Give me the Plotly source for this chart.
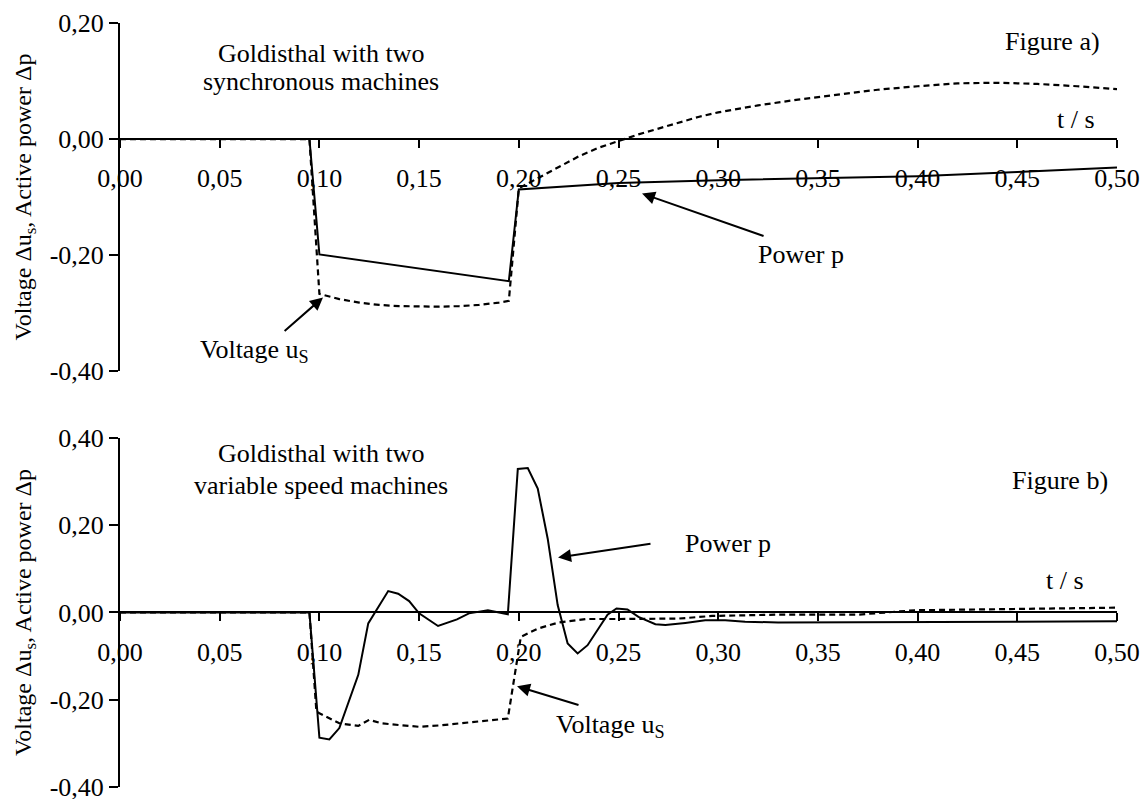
import plotly.graph_objects as go

# ---------------- data ----------------
# Figure a) Goldisthal with two synchronous machines
t_a_power = [0.0, 0.095, 0.100, 0.195, 0.200, 0.25, 0.30, 0.35, 0.40, 0.45, 0.50]
p_a_power = [0.0, 0.0, -0.199, -0.245, -0.087, -0.076, -0.071, -0.068, -0.064, -0.057, -0.049]

t_a_volt = [0.0, 0.095, 0.100, 0.110, 0.120, 0.130, 0.140, 0.150, 0.160, 0.170, 0.180,
            0.190, 0.195, 0.200, 0.210, 0.220, 0.230, 0.240, 0.250, 0.260, 0.270, 0.280,
            0.290, 0.300, 0.320, 0.340, 0.360, 0.380, 0.400, 0.420, 0.440, 0.460, 0.480, 0.500]
u_a_volt = [0.0, 0.0, -0.267, -0.276, -0.282, -0.286, -0.288, -0.289, -0.289, -0.288, -0.286,
            -0.282, -0.279, -0.085, -0.067, -0.048, -0.030, -0.015, -0.003, 0.008, 0.018, 0.028,
            0.038, 0.046, 0.058, 0.068, 0.077, 0.085, 0.091, 0.096, 0.097, 0.095, 0.091, 0.086]

# Figure b) Goldisthal with two variable speed machines
t_b_power = [0.0, 0.095, 0.100, 0.105, 0.110, 0.1195, 0.1245, 0.1345, 0.1395, 0.145, 0.150,
             0.1595, 0.169, 0.175, 0.1845, 0.1945, 0.1995, 0.2045, 0.2095, 0.2145, 0.2195,
             0.2245, 0.2295, 0.2345, 0.2445, 0.249, 0.2545, 0.260, 0.2685, 0.2735, 0.2835,
             0.2935, 0.3035, 0.3135, 0.330, 0.40, 0.45, 0.50]
p_b_power = [0.0, 0.0, -0.287, -0.291, -0.265, -0.143, -0.025, 0.049, 0.043, 0.026, -0.002,
             -0.031, -0.016, -0.002, 0.005, -0.004, 0.329, 0.331, 0.284, 0.169, 0.017,
             -0.071, -0.094, -0.075, -0.005, 0.009, 0.007, -0.010, -0.027, -0.029, -0.024,
             -0.018, -0.018, -0.021, -0.023, -0.021, -0.021, -0.020]

t_b_volt = [0.0, 0.095, 0.0985, 0.100, 0.110, 0.1195, 0.125, 0.131, 0.140, 0.150, 0.160,
            0.172, 0.1845, 0.1945, 0.201, 0.2095, 0.220, 0.2335, 0.250, 0.280, 0.297, 0.330,
            0.370, 0.3985, 0.4485, 0.500]
u_b_volt = [0.0, 0.0, -0.227, -0.231, -0.254, -0.260, -0.246, -0.254, -0.258, -0.262, -0.259,
            -0.254, -0.248, -0.243, -0.056, -0.037, -0.023, -0.015, -0.015, -0.014, -0.008, -0.005,
            -0.005, 0.005, 0.008, 0.011]

x_tickvals = [0.0, 0.05, 0.10, 0.15, 0.20, 0.25, 0.30, 0.35, 0.40, 0.45, 0.50]
x_ticktext = ["0,00", "0,05", "0,10", "0,15", "0,20", "0,25", "0,30", "0,35", "0,40", "0,45", "0,50"]
ya_tickvals = [-0.4, -0.2, 0.0, 0.2]
ya_ticktext = ["-0,40", "-0,20", "0,00", "0,20"]
yb_tickvals = [-0.4, -0.2, 0.0, 0.2, 0.4]
yb_ticktext = ["-0,40", "-0,20", "0,00", "0,20", "0,40"]

# ---------------- layout helpers ----------------
FONT = "Liberation Serif, Times New Roman, serif"
FS = 26
BLACK = "#000000"

dom_a = [0.5444, 1.0]
dom_b = [0.0, 0.4569]
rng_a = [-0.4, 0.2]
rng_b = [-0.4, 0.4]


def zero_pos(dom, rng):
    return dom[0] + (0 - rng[0]) / (rng[1] - rng[0]) * (dom[1] - dom[0])


fig = go.Figure()

solid = dict(color=BLACK, width=2)
dashed = dict(color=BLACK, width=2.2, dash="6px,4px")

fig.add_trace(go.Scatter(x=t_a_volt, y=u_a_volt, mode="lines", line=dashed, xaxis="x", yaxis="y",
                         name="Voltage u_S (a)"))
fig.add_trace(go.Scatter(x=t_a_power, y=p_a_power, mode="lines", line=solid, xaxis="x", yaxis="y",
                         name="Power p (a)"))
fig.add_trace(go.Scatter(x=t_b_volt, y=u_b_volt, mode="lines", line=dashed, xaxis="x2", yaxis="y2",
                         name="Voltage u_S (b)"))
fig.add_trace(go.Scatter(x=t_b_power, y=p_b_power, mode="lines", line=solid, xaxis="x2", yaxis="y2",
                         name="Power p (b)"))

xaxis_common = dict(
    range=[0, 0.5], tickvals=x_tickvals, ticktext=x_ticktext,
    showgrid=False, zeroline=False, showline=True, linecolor=BLACK, linewidth=2,
    ticks="outside", ticklen=8, tickwidth=2, tickcolor=BLACK,
    tickfont=dict(family=FONT, size=FS, color=BLACK), ticklabelstandoff=8,
    ticklabeloverflow="allow",
    anchor="free", side="bottom", fixedrange=True, automargin=False,
)
yaxis_common = dict(
    showgrid=False, zeroline=False, showline=True, linecolor=BLACK, linewidth=2,
    ticks="outside", ticklen=9, tickwidth=2, tickcolor=BLACK,
    tickfont=dict(family=FONT, size=FS, color=BLACK), automargin=False, fixedrange=True,
    ticklabeloverflow="allow",
    title=dict(text="Voltage Δu<sub>s</sub>, Active power Δp",
               font=dict(family=FONT, size=24, color=BLACK), standoff=11),
)

fig.update_layout(
    template="none",
    width=1147, height=799,
    margin=dict(l=120, r=30, t=23, b=12, autoexpand=False),
    paper_bgcolor="white", plot_bgcolor="white",
    showlegend=False,
    font=dict(family=FONT, size=FS, color=BLACK),
    xaxis=dict(domain=[0, 1], position=zero_pos(dom_a, rng_a), **xaxis_common),
    yaxis=dict(domain=dom_a, range=rng_a, tickvals=ya_tickvals, ticktext=ya_ticktext,
               anchor="x", **yaxis_common),
    xaxis2=dict(domain=[0, 1], position=zero_pos(dom_b, rng_b), **xaxis_common),
    yaxis2=dict(domain=dom_b, range=rng_b, tickvals=yb_tickvals, ticktext=yb_ticktext,
                anchor="x2", **yaxis_common),
)


def txt(x, y, text, xr="x", yr="y", xanchor="center"):
    fig.add_annotation(x=x, y=y, xref=xr, yref=yr, text=text, showarrow=False,
                       xanchor=xanchor, yanchor="middle",
                       font=dict(family=FONT, size=FS, color=BLACK))


def arrow(x, y, ax, ay, xr="x", yr="y"):
    fig.add_annotation(x=x, y=y, ax=ax, ay=ay, xref=xr, yref=yr, axref=xr, ayref=yr,
                       text="", showarrow=True, arrowhead=2, arrowsize=1.3, arrowwidth=2,
                       arrowcolor=BLACK)


# Figure a annotations
txt(-0.001, 0.124, "p.u.", xanchor="right")
txt(0.1008, 0.148, "Goldisthal with two")
txt(0.1008, 0.0985, "synchronous machines")
txt(0.4674, 0.1673, "Figure a)")
txt(0.4795, 0.0332, "t / s")
txt(0.3415, -0.199, "Power p")
arrow(0.2618, -0.094, 0.3235, -0.168)
txt(0.0677, -0.366, "Voltage u<sub>S</sub>")
arrow(0.1018, -0.273, 0.0818, -0.333)

# Figure b annotations
txt(-0.001, 0.302, "p.u.", xr="x2", yr="y2", xanchor="right")
txt(0.1008, 0.364, "Goldisthal with two", xr="x2", yr="y2")
txt(0.1008, 0.291, "variable speed machines", xr="x2", yr="y2")
txt(0.4714, 0.302, "Figure b)", xr="x2", yr="y2")
txt(0.4737, 0.073, "t / s", xr="x2", yr="y2")
txt(0.3047, 0.158, "Power p", xr="x2", yr="y2")
arrow(0.2197, 0.126, 0.2668, 0.158, xr="x2", yr="y2")
txt(0.2462, -0.261, "Voltage u<sub>S</sub>", xr="x2", yr="y2")
arrow(0.1991, -0.169, 0.2307, -0.213, xr="x2", yr="y2")

fig.write_html("out.html", config={"displayModeBar": False},
               post_script="document.body.style.margin='0px';document.body.style.overflow='hidden';")
